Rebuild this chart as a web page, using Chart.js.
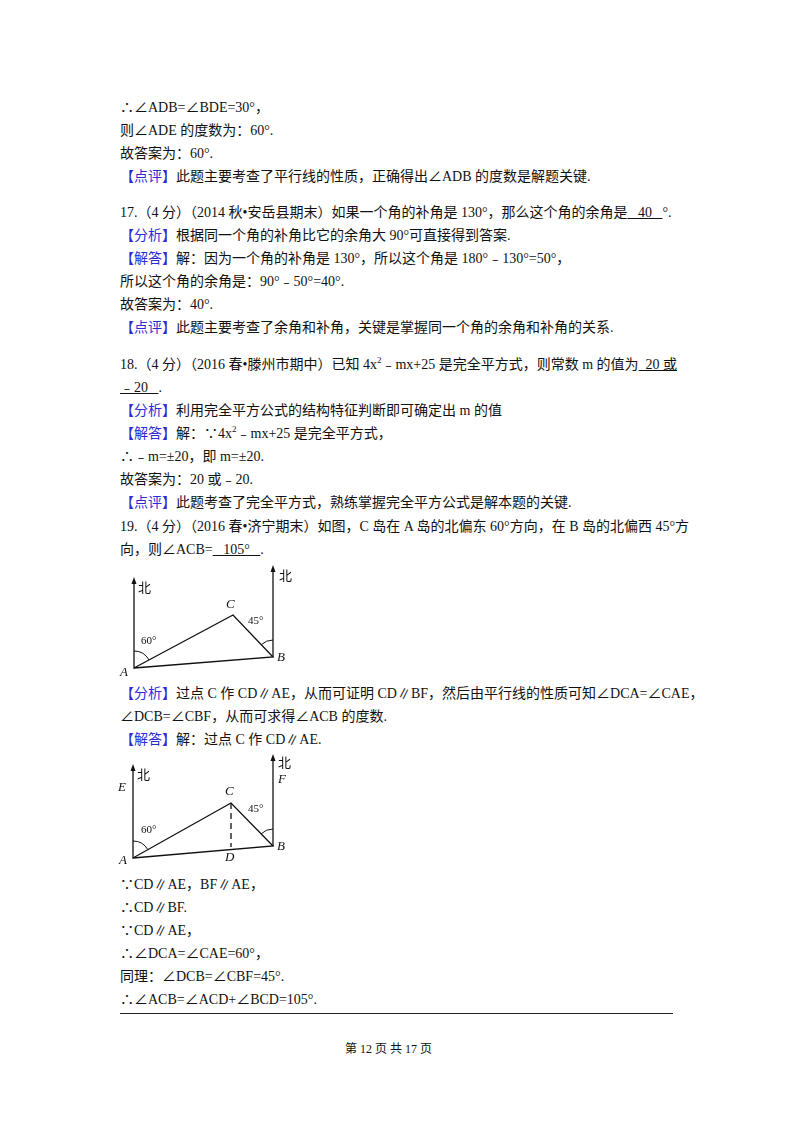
<!DOCTYPE html>
<html><head><meta charset="utf-8">
<script src="https://cdn.jsdelivr.net/npm/chart.js@4"></script>
<style>
body{margin:0;width:800px;height:1132px;background:#fff;position:relative;font-family:"Liberation Serif","Noto Sans CJK SC",serif;color:#111}
.l{position:absolute;left:120px;font-size:14px;white-space:nowrap;line-height:18px}
.l sup{font-size:9px;line-height:0}
.b{color:#2b2bd6}
.u{text-decoration:underline}
.fig{position:absolute}
.t{position:absolute;font-size:13px;font-style:italic;font-family:"Liberation Serif",serif}
.n{position:absolute;font-size:13px;font-family:"Noto Sans CJK SC";line-height:14px}
.a{position:absolute;font-size:11px}
</style></head><body>
<div class="l" style="top:99px">∴∠ADB=∠BDE=30°，</div>
<div class="l" style="top:122px">则∠ADE 的度数为：60°.</div>
<div class="l" style="top:145px">故答案为：60°.</div>
<div class="l" style="top:168px"><span class="b">【点评】</span>此题主要考查了平行线的性质，正确得出∠ADB 的度数是解题关键.</div>
<div class="l" style="top:204px">17.（4 分）（2014 秋•安岳县期末）如果一个角的补角是 130°，那么这个角的余角是<span class="u">&nbsp;&nbsp;&nbsp;40&nbsp;&nbsp;&nbsp;</span>°.</div>
<div class="l" style="top:227px"><span class="b">【分析】</span>根据同一个角的补角比它的余角大 90°可直接得到答案.</div>
<div class="l" style="top:250px"><span class="b">【解答】</span>解：因为一个角的补角是 130°，所以这个角是 180°﹣130°=50°，</div>
<div class="l" style="top:273px">所以这个角的余角是：90°﹣50°=40°.</div>
<div class="l" style="top:296px">故答案为：40°.</div>
<div class="l" style="top:319px"><span class="b">【点评】</span>此题主要考查了余角和补角，关键是掌握同一个角的余角和补角的关系.</div>
<div class="l" style="top:356px">18.（4 分）（2016 春•滕州市期中）已知 4x<sup>2</sup>﹣mx+25 是完全平方式，则常数 m 的值为<span class="u">&nbsp;&nbsp;20 或</span></div>
<div class="l" style="top:379px"><span class="u">﹣20&nbsp;&nbsp;&nbsp;</span>.</div>
<div class="l" style="top:402px"><span class="b">【分析】</span>利用完全平方公式的结构特征判断即可确定出 m 的值</div>
<div class="l" style="top:425px"><span class="b">【解答】</span>解：∵4x<sup>2</sup>﹣mx+25 是完全平方式，</div>
<div class="l" style="top:448px">∴﹣m=±20，即 m=±20.</div>
<div class="l" style="top:471px">故答案为：20 或﹣20.</div>
<div class="l" style="top:494px"><span class="b">【点评】</span>此题考查了完全平方式，熟练掌握完全平方公式是解本题的关键.</div>
<div class="l" style="top:518px">19.（4 分）（2016 春•济宁期末）如图，C 岛在 A 岛的北偏东 60°方向，在 B 岛的北偏西 45°方</div>
<div class="l" style="top:541px">向，则∠ACB=<span class="u">&nbsp;&nbsp;&nbsp;105°&nbsp;&nbsp;&nbsp;</span>.</div>
<div class="l" style="top:685px"><span class="b">【分析】</span>过点 C 作 CD∥AE，从而可证明 CD∥BF，然后由平行线的性质可知∠DCA=∠CAE，</div>
<div class="l" style="top:708px">∠DCB=∠CBF，从而可求得∠ACB 的度数.</div>
<div class="l" style="top:731px"><span class="b">【解答】</span>解：过点 C 作 CD∥AE.</div>
<div class="l" style="top:876px">∵CD∥AE，BF∥AE，</div>
<div class="l" style="top:899px">∴CD∥BF.</div>
<div class="l" style="top:922px">∵CD∥AE，</div>
<div class="l" style="top:945px">∴∠DCA=∠CAE=60°，</div>
<div class="l" style="top:968px">同理：∠DCB=∠CBF=45°.</div>
<div class="l" style="top:991px">∴∠ACB=∠ACD+∠BCD=105°.</div>
<div style="position:absolute;left:120px;top:1013px;width:553px;border-top:1.5px solid #222"></div>
<div class="l" style="top:1040px;left:345px;font-size:12px">第 12 页 共 17 页</div>

<div class="fig" style="left:110px;top:560px;width:200px;height:120px"><canvas id="f1"></canvas></div>
<div class="fig" style="left:110px;top:750px;width:200px;height:120px"><canvas id="f2"></canvas></div>
<div class="n" style="left:138px;top:580px">北</div>
<div class="n" style="left:279px;top:568px">北</div>
<div class="t" style="left:226px;top:596px">C</div>
<div class="t" style="left:120px;top:664px">A</div>
<div class="t" style="left:277px;top:649px">B</div>
<div class="a" style="left:141px;top:634px">60°</div>
<div class="a" style="left:248px;top:614px">45°</div>
<div class="n" style="left:137px;top:767px">北</div>
<div class="n" style="left:278px;top:755px">北</div>
<div class="t" style="left:118px;top:779px">E</div>
<div class="t" style="left:278px;top:771px">F</div>
<div class="t" style="left:225px;top:783px">C</div>
<div class="t" style="left:119px;top:852px">A</div>
<div class="t" style="left:277px;top:838px">B</div>
<div class="t" style="left:225px;top:849px">D</div>
<div class="a" style="left:141px;top:823px">60°</div>
<div class="a" style="left:248px;top:802px">45°</div>
<script>
// figure 1 points (figure pixel units)
const fig1A=[24,108], fig1AN=[24,20], fig1C=[123,55], fig1B=[163,97], fig1BN=[163,8];
// figure 2 points
const fig2A=[23,108], fig2AN=[23,17], fig2C=[121,53], fig2D=[121,97], fig2B=[163,96], fig2BN=[163,7];
const arcR=[17,17];

const P=p=>({x:p[0],y:p[1]});
function seg(pts,dash){return {data:pts.map(P),showLine:true,borderColor:'#111',borderWidth:1.3,pointRadius:0,borderDash:dash||[]};}
const arcPlugin={id:'arcs',afterDatasetsDraw(ch){
  const g=ch.options.plugins.arcs; if(!g)return;
  const c=ch.ctx,x=ch.scales.x,y=ch.scales.y;
  c.save();c.strokeStyle='#111';c.lineWidth=1;
  g.forEach(a=>{
    const cx=x.getPixelForValue(a.o[0]),cy=y.getPixelForValue(a.o[1]);
    const ang=p=>Math.atan2(y.getPixelForValue(p[1])-cy,x.getPixelForValue(p[0])-cx);
    let s=ang(a.p),e=ang(a.q);
    c.beginPath();c.arc(cx,cy,a.r,Math.min(s,e),Math.max(s,e));c.stroke();
  });
  // arrowheads
  g.forEach(a=>{if(!a.n)return;const nx=x.getPixelForValue(a.n[0]),ny=y.getPixelForValue(a.n[1]);
    c.fillStyle='#111';c.beginPath();c.moveTo(nx,ny-3);c.lineTo(nx-2.5,ny+4);c.lineTo(nx+2.5,ny+4);c.fill();});
  c.restore();}};
function make(id,ds,arcs){
  new Chart(document.getElementById(id),{type:'scatter',data:{datasets:ds},plugins:[arcPlugin],
   options:{responsive:true,maintainAspectRatio:false,animation:false,layout:{padding:0},
    scales:{x:{type:'linear',min:0,max:200,display:false},y:{type:'linear',min:0,max:120,reverse:true,display:false}},
    plugins:{legend:{display:false},tooltip:{enabled:false},arcs:arcs}}});
}
make('f1',[seg([fig1AN,fig1A,fig1C,fig1B,fig1A]),seg([fig1B,fig1BN])],
 [{o:fig1A,p:fig1AN,q:fig1C,r:arcR[0],n:fig1AN},{o:fig1B,p:fig1BN,q:fig1C,r:arcR[1],n:fig1BN}]);
make('f2',[seg([fig2AN,fig2A,fig2C,fig2B,fig2A]),seg([fig2B,fig2BN]),seg([fig2C,fig2D],[6,4])],
 [{o:fig2A,p:fig2AN,q:fig2C,r:arcR[0],n:fig2AN},{o:fig2B,p:fig2BN,q:fig2C,r:arcR[1],n:fig2BN}]);
</script>
</body></html>
